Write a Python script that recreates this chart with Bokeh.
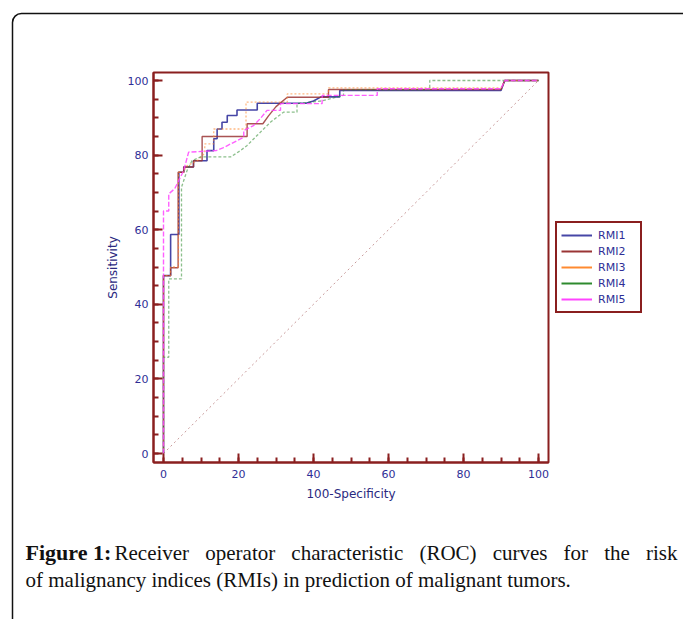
from bokeh.plotting import figure
from bokeh.models import (Range1d, SingleIntervalTicker, Legend, LegendItem,
                          Label, BoxAnnotation, LinearAxis)
from bokeh.embed import file_html
from bokeh.resources import INLINE

# ---------------- data ----------------
series_names = ["RMI1", "RMI2", "RMI3", "RMI4", "RMI5"]

rmi1_fpr = [0, 0, 1.9, 1.9, 4.1, 4.1, 5.4, 5.4, 8, 8, 11.6, 11.6, 13.4, 13.4, 14.3, 14.3,
            15.6, 15.6, 17, 17, 19.6, 19.6, 25, 25, 38, 40, 42, 47, 47, 90, 91, 100]
rmi1_tpr = [0, 47.7, 47.7, 58.7, 58.7, 75.4, 75.4, 76.8, 76.8, 78.5, 78.5, 81.2, 81.2, 84.4, 84.4, 87,
            87, 88.8, 88.8, 90.6, 90.6, 92.1, 92.1, 93.9, 93.9, 94.5, 95.6, 95.6, 97.3, 97.3, 100, 100]

rmi2_fpr = [0, 0, 1.9, 1.9, 3.9, 3.9, 5.4, 5.4, 8, 8, 10.3, 10.3, 22.3, 22.3, 26.5, 28, 30, 33,
            44, 44, 90, 91, 100]
rmi2_tpr = [0, 47.7, 47.7, 49.8, 49.8, 75.4, 75.4, 76.8, 76.8, 78.5, 78.5, 85, 85, 88.4, 88.4, 90.5, 93, 95.5,
            95.5, 97.6, 97.6, 100, 100]

rmi3_fpr = [0, 0, 1.9, 1.9, 4, 4, 5.4, 6, 9, 11, 11, 13.4, 13.4, 22, 22, 33, 33, 44, 44, 90, 91, 100]
rmi3_tpr = [0, 47.7, 47.7, 50, 50, 75.4, 75.4, 77, 78.5, 80.5, 83, 83, 87, 87, 94.2, 94.2, 96.4, 96.4,
            98, 98, 100, 100]

rmi4_fpr = [0, 0, 1.4, 1.4, 4.8, 4.8, 6.3, 7.6, 9.9, 17.9, 20.5, 22.3, 25, 28.5, 32, 35.6, 35.6,
            42, 48, 48, 71, 71, 100]
rmi4_tpr = [0, 25.8, 25.8, 46.8, 46.8, 71.4, 75.9, 78.5, 79.5, 79.5, 81.2, 82.6, 85.3, 88.8, 91.5, 91.5, 93.8,
            94.5, 96, 97.5, 97.5, 100, 100]

rmi5_fpr = [0, 0, 1.4, 1.4, 3, 5.4, 6.7, 14, 16, 21.4, 21.4, 24, 26, 27.6, 31.2, 31.2, 42.3, 42.3,
            57, 57, 90, 91, 100]
rmi5_tpr = [0, 65, 65, 69.6, 71, 75.9, 80.8, 81.2, 82, 84.8, 86.6, 87.9, 90, 92, 92, 93.8, 93.8, 96,
            96, 97.8, 97.8, 100, 100]

diag_x = [0, 100]
diag_y = [0, 100]

tick_interval = 20
axis_min, axis_max = 0, 100

caption_bold = "Figure 1:"
caption_line1 = "Receiver operator characteristic (ROC) curves for the risk"
caption_line2 = "of malignancy indices (RMIs) in prediction of malignant tumors."

# ---------------- layout (pixels on the page) ----------------
W, H = 683, 619
X0_PX, X100_PX = 163, 538          # where 0 and 100 sit horizontally
Y0_PX, Y100_PX = 453, 80           # where 0 and 100 sit vertically
BOX_L, BOX_R, BOX_T, BOX_B = 153, 548, 72, 462   # dark-red chart box

kx = (X100_PX - X0_PX) / (axis_max - axis_min)
ky = (Y0_PX - Y100_PX) / (axis_max - axis_min)
def px2x(px): return axis_min + (px - X0_PX) / kx
def py2y(py): return axis_min + (Y0_PX - py) / ky

# ---------------- styles ----------------
colors = ["#4646a6", "#9a3535", "#ff8a30", "#2e8a2e", "#ff44ff"]
dashes = ["solid", "solid", "2 2", "3 2", "5 2"]
alphas = [1.0, 0.85, 0.6, 0.55, 0.85]
widths = [1.6, 1.4, 1.3, 1.3, 1.4]
axis_red = "#8a1f1f"
text_blue = "#2e2e96"

p = figure(width=W, height=H, output_backend="svg", toolbar_location=None,
           x_range=Range1d(px2x(0), px2x(W)), y_range=Range1d(py2y(H), py2y(0)),
           x_axis_location=None, y_axis_location=None,
           min_border=0, min_border_left=0, min_border_right=0,
           min_border_top=0, min_border_bottom=0,
           background_fill_color="white", border_fill_color="white")
p.grid.visible = False
p.outline_line_color = None

xb = (px2x(BOX_L), px2x(BOX_R))
yb = (py2y(BOX_B), py2y(BOX_T))

xaxis = LinearAxis(fixed_location=yb[0], bounds=xb, axis_label="100-Specificity")
yaxis = LinearAxis(fixed_location=xb[0], bounds=yb, axis_label="Sensitivity")
for ax in (xaxis, yaxis):
    ax.ticker = SingleIntervalTicker(interval=tick_interval, num_minor_ticks=4)
    ax.axis_line_color = axis_red
    ax.axis_line_width = 2
    ax.major_tick_line_color = axis_red
    ax.major_tick_line_width = 2
    ax.minor_tick_line_color = axis_red
    ax.minor_tick_line_width = 2
    ax.major_tick_in = 9
    ax.major_tick_out = 0
    ax.minor_tick_in = 5
    ax.minor_tick_out = 0
    ax.major_label_text_font = "DejaVu Sans"
    ax.major_label_text_font_size = "11px"
    ax.major_label_text_color = text_blue
    ax.axis_label_text_font = "DejaVu Sans"
    ax.axis_label_text_font_size = "12px"
    ax.axis_label_text_font_style = "normal"
    ax.axis_label_text_color = "#2a2a80"
xaxis.major_label_standoff = 7
yaxis.major_label_standoff = 5
xaxis.axis_label_standoff = 6
yaxis.axis_label_standoff = 5
p.add_layout(xaxis, "below")
p.add_layout(yaxis, "left")

# dark-red chart box (top and right sides; left/bottom are the axes)
p.add_layout(BoxAnnotation(left=xb[0], right=xb[1], bottom=yb[0], top=yb[1],
                           fill_alpha=0, fill_color=None, line_color=axis_red,
                           line_alpha=1, line_width=2, level="underlay"))

# chance diagonal
p.line(diag_x, diag_y, line_color="#c89a9a", line_width=1, line_dash="2 3")

fprs = [rmi1_fpr, rmi2_fpr, rmi3_fpr, rmi4_fpr, rmi5_fpr]
tprs = [rmi1_tpr, rmi2_tpr, rmi3_tpr, rmi4_tpr, rmi5_tpr]

nan = float("nan")
items = []
for name, fx, ty, c, d, a, w in zip(series_names, fprs, tprs, colors, dashes, alphas, widths):
    p.line(fx, ty, line_color=c, line_dash=d, line_alpha=a, line_width=w)
    # solid sample for the legend (no visible mark of its own)
    dummy = p.line([nan, nan], [nan, nan], line_color=c, line_width=2)
    items.append(LegendItem(label=name, renderers=[dummy]))

legend = Legend(items=items, location=(555, H - 313), orientation="vertical",
                border_line_color=axis_red, border_line_width=2, border_line_alpha=1,
                padding=4, spacing=0, margin=0,
                label_height=16, glyph_height=16, glyph_width=31,
                label_width=38, label_standoff=6,
                label_text_font="DejaVu Sans", label_text_font_size="11px",
                label_text_color=text_blue, background_fill_alpha=1)
p.add_layout(legend, "center")

# outer rounded frame of the figure box
p.add_layout(BoxAnnotation(left=12, right=W + 40, top=H - 13, bottom=-40,
                           left_units="screen", right_units="screen",
                           top_units="screen", bottom_units="screen",
                           fill_alpha=0, fill_color=None, line_color="#111111",
                           line_alpha=1, line_width=1.5, border_radius=9))

# caption (first line justified to the right edge as in the original)
cap_font = "Liberation Serif"
cap_size = 21
tnr = {"R": 667, "e": 444, "c": 444, "i": 278, "v": 500, "r": 333, "o": 500,
       "p": 500, "a": 444, "t": 278, "h": 500, "s": 389, "(": 333, "O": 722,
       "C": 667, ")": 333, "u": 500, "f": 333, "k": 500}
def word_w(wd): return sum(tnr.get(ch, 500) for ch in wd) / 1000 * cap_size

p.add_layout(Label(x=25, y=H - 552, x_units="screen", y_units="screen",
                   text=caption_bold, text_font=cap_font, text_font_size="22px",
                   text_font_style="bold", text_color="#111111",
                   text_baseline="alphabetic"))
words = caption_line1.split(" ")
line_start, line_end = 114, 677
gap = (line_end - line_start - sum(word_w(wd) for wd in words)) / (len(words) - 1)
xpos = line_start
for wd in words:
    p.add_layout(Label(x=xpos, y=H - 552, x_units="screen", y_units="screen",
                       text=wd, text_font=cap_font, text_font_size=f"{cap_size}px",
                       text_color="#111111", text_baseline="alphabetic"))
    xpos += word_w(wd) + gap
p.add_layout(Label(x=25, y=H - 579, x_units="screen", y_units="screen",
                   text=caption_line2, text_font=cap_font, text_font_size=f"{cap_size}px",
                   text_color="#111111", text_baseline="alphabetic"))

open("out.html", "w").write(file_html(p, INLINE))
